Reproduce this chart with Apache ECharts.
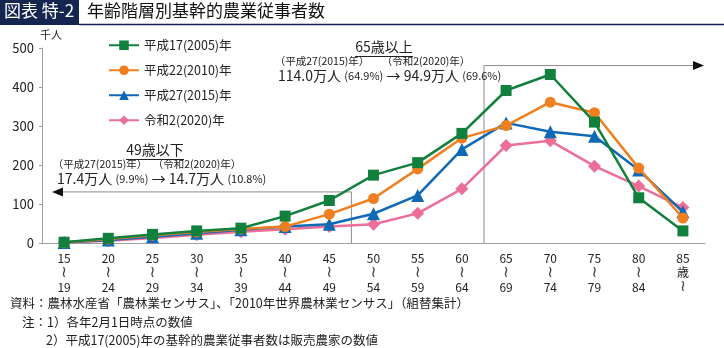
<!DOCTYPE html>
<html><head><meta charset="utf-8">
<script src="https://cdn.jsdelivr.net/npm/echarts@6/dist/echarts.min.js"></script>
<style>html,body{margin:0;padding:0;background:#fff}#c{width:724px;height:348px}</style>
</head><body><div id="c"></div>
<script>
const categories = ['15|19','20|24','25|29','30|34','35|39','40|44','45|49','50|54','55|59','60|64','65|69','70|74','75|79','80|84','85|歳'];
const yTicks = [0,100,200,300,400,500];
const s2005 = [2,12,22,31,38,69,109,174,206,281,391,432,310,116,31];
const s2010 = [1,10,20,28,36,42,74,114,190,269,301,361,334,192,64];
const s2015 = [1,8,16,25,34,42,48,75,122,240,308,285,274,187,80];
const s2020 = [1,6,13,21,29,35,42,48,76,139,250,262,197,146,91];
const names = ['平成17(2005)年','平成22(2010)年','平成27(2015)年','令和2(2020)年'];
const colors = ['#12803d','#f07f1f','#0f69b4','#ec6f98'];
const symbols = ['rect','circle','triangle','diamond'];
const FONT = '"Noto Sans CJK JP", "Noto Sans", sans-serif';

const chart = echarts.init(document.getElementById('c'), null, {renderer:'canvas'});
const data = [s2005,s2010,s2015,s2020];
const series = data.map((d,i)=>({
  name: names[i], type:'line', data:d, symbol:symbols[i],
  symbolSize: i===2?13:(i===3?13:11),
  lineStyle:{width:2.5,color:colors[i]}, itemStyle:{color:colors[i]},
  z: 10-i, animation:false
}));
chart.setOption({
  animation:false,
  textStyle:{fontFamily:FONT},
  grid:{left:42,right:19,top:48,bottom:105},
  legend:{orient:'vertical',left:103,top:34,itemWidth:30,itemHeight:12,itemGap:12.5,
    textStyle:{fontFamily:FONT,fontSize:12.5,color:'#222'},data:names},
  xAxis:{type:'category',data:categories,boundaryGap:true,
    axisLine:{lineStyle:{color:'#a0a0a0',width:1}},
    axisTick:{alignWithLabel:true,length:4,lineStyle:{color:'#a0a0a0'}},
    axisLabel:{interval:0,fontFamily:FONT,fontSize:12,color:'#222',margin:8,
      formatter:v=>{const p=v.split('|');
        return p[1]==='歳' ? '{n|'+p[0]+'}\n{n|歳}\n{w|≀}' : '{n|'+p[0]+'}\n{w|≀}\n{n|'+p[1]+'}';},
      rich:{n:{fontFamily:FONT,fontSize:12,color:'#222',lineHeight:14.5},
            w:{fontFamily:'"DejaVu Sans", sans-serif',fontSize:16,color:'#444',lineHeight:14.5}}}},
  yAxis:{type:'value',min:0,max:500,interval:100,
    axisLine:{show:true,lineStyle:{color:'#a0a0a0'}},
    axisTick:{show:true,length:3,lineStyle:{color:'#a0a0a0'}},
    splitLine:{show:false},
    axisLabel:{fontFamily:FONT,fontSize:13,color:'#222',margin:8,
      formatter:v=>yTicks.includes(v)?String(v):''}},
  series
});

const px = (c,v)=>chart.convertToPixel({xAxisIndex:0,yAxisIndex:0},[c,v]);
const x45 = px(6,0)[0], x50 = px(7,0)[0], x60 = px(9,0)[0], x65 = px(10,0)[0];
const y0 = px(0,0)[1];
const yL = px(0,131)[1], yH = px(0,455)[1];
const xl = (x45+x50)/2, xh = (x60+x65)/2;
const lc = '#8c8c8c';
const g = [
  {type:'rect',shape:{x:0,y:0,width:79,height:25},style:{fill:'#142650'}},
  {type:'text',left:4,top:2,style:{text:'図表 特-2',fill:'#fff',font:'17px '+FONT}},
  {type:'text',left:87,top:2,style:{text:'年齢階層別基幹的農業従事者数',fill:'#111',font:'17px '+FONT}},
  {type:'line',shape:{x1:79,y1:24.5,x2:724,y2:24.5},style:{stroke:'#142650',lineWidth:1.5}},
  {type:'text',left:40,top:29,style:{text:'千人',fill:'#222',font:'11px '+FONT}},
  {type:'polyline',shape:{points:[[62,yL],[xl,yL],[xl,y0]]},style:{stroke:lc,lineWidth:1,fill:null}},
  {type:'polygon',shape:{points:[[52,yL],[63,yL-4.5],[63,yL+4.5]]},style:{fill:'#111'}},
  {type:'text',x:155,y:150,style:{text:'49歳以下',fill:'#222',font:'14px '+FONT,align:'center',verticalAlign:'middle'}},
  {type:'line',shape:{x1:126,y1:159.5,x2:184,y2:159.5},style:{stroke:'#222',lineWidth:1}},
  {type:'text',x:100,y:164,style:{text:'（平成27(2015)年）',fill:'#222',font:'10.5px '+FONT,align:'center',verticalAlign:'middle'}},
  {type:'text',x:197,y:164,style:{text:'（令和2(2020)年）',fill:'#222',font:'10.5px '+FONT,align:'center',verticalAlign:'middle'}},
  {type:'text',x:57,y:179,style:{rich:{a:{font:'14px '+FONT,fill:'#222'},b:{font:'11px '+FONT,fill:'#222'}},
    text:'{a|17.4万人} {b|(9.9%)} {a|→ 14.7万人} {b|(10.8%)}',verticalAlign:'middle'}},
  {type:'polyline',shape:{points:[[xh,y0],[xh,yH],[694,yH]]},style:{stroke:lc,lineWidth:1,fill:null}},
  {type:'polygon',shape:{points:[[704,yH],[693,yH-4.5],[693,yH+4.5]]},style:{fill:'#111'}},
  {type:'text',x:384,y:47,style:{text:'65歳以上',fill:'#222',font:'14px '+FONT,align:'center',verticalAlign:'middle'}},
  {type:'line',shape:{x1:355,y1:56.5,x2:413,y2:56.5},style:{stroke:'#222',lineWidth:1}},
  {type:'text',x:322,y:61,style:{text:'（平成27(2015)年）',fill:'#222',font:'10.5px '+FONT,align:'center',verticalAlign:'middle'}},
  {type:'text',x:426,y:61,style:{text:'（令和2(2020)年）',fill:'#222',font:'10.5px '+FONT,align:'center',verticalAlign:'middle'}},
  {type:'text',x:278,y:76,style:{rich:{a:{font:'14px '+FONT,fill:'#222'},b:{font:'11px '+FONT,fill:'#222'}},
    text:'{a|114.0万人} {b|(64.9%)} {a|→ 94.9万人} {b|(69.6%)}',verticalAlign:'middle'}},
  {type:'text',left:10,top:297,style:{text:'資料：農林水産省「農林業センサス」、「2010年世界農林業センサス」（組替集計）',fill:'#222',font:'12.5px '+FONT}},
  {type:'text',left:22,top:316,style:{text:'注：1）各年2月1日時点の数値',fill:'#222',font:'12.5px '+FONT}},
  {type:'text',left:46,top:334,style:{text:'2）平成17(2005)年の基幹的農業従事者数は販売農家の数値',fill:'#222',font:'12.5px '+FONT}}
];
chart.setOption({graphic:g});
</script></body></html>
